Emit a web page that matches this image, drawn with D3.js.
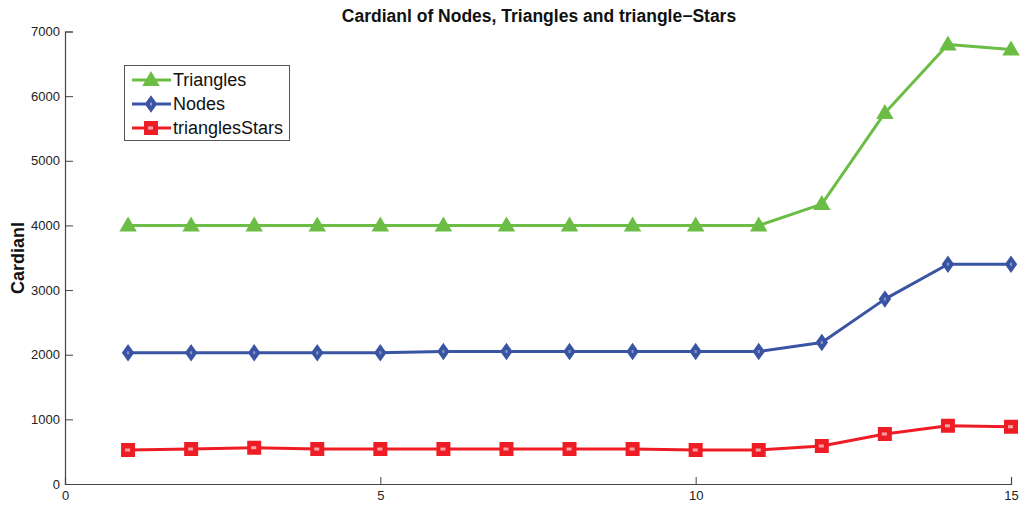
<!DOCTYPE html>
<html>
<head>
<meta charset="utf-8">
<script src="https://cdn.jsdelivr.net/npm/d3@7"></script>
<style>
  body { margin: 0; background: #fff; }
  svg { display: block; font-family: Arial, "Liberation Sans", sans-serif; }
</style>
</head>
<body>
<svg id="chart" width="1022" height="505"></svg>
<script>
// Measurement runs 1..15
const runs = [1, 2, 3, 4, 5, 6, 7, 8, 9, 10, 11, 12, 13, 14, 15];
const triangles = [4000, 4000, 4000, 4000, 4000, 4000, 4000, 4000, 4000, 4000, 4000, 4330, 5740, 6800, 6720];
const nodes = [2030, 2030, 2030, 2030, 2030, 2050, 2050, 2050, 2050, 2050, 2050, 2190, 2860, 3400, 3400];
const trianglesStars = [526, 541, 562, 541, 541, 541, 541, 541, 541, 526, 526, 588, 773, 900, 886];
const xTicks = [0, 5, 10, 15];
const yTicks = [0, 1000, 2000, 3000, 4000, 5000, 6000, 7000];

const seriesList = [
  { name: "Triangles", values: triangles, color: "#6cbd45", marker: "triangle" },
  { name: "Nodes", values: nodes, color: "#3a54a4", marker: "diamond" },
  { name: "trianglesStars", values: trianglesStars, color: "#ee1d25", marker: "square" }
];

const svg = d3.select("#chart");
const m = { left: 65, right: 1011, top: 31.5, bottom: 484 };

const x = d3.scaleLinear().domain([0, 15]).range([m.left, m.right]);
const y = d3.scaleLinear().domain([0, 7000]).range([m.bottom, m.top]);

// Axes with inward ticks
const axisColor = "#444";
const xAxis = svg.append("g")
  .attr("transform", `translate(0,${m.bottom})`)
  .call(d3.axisBottom(x).tickValues(xTicks).tickSize(-7).tickPadding(7).tickFormat(d3.format("d")));
const yAxis = svg.append("g")
  .attr("transform", `translate(${m.left},0)`)
  .call(d3.axisLeft(y).tickValues(yTicks).tickSize(-8).tickPadding(5).tickFormat(d3.format("d")));

[xAxis, yAxis].forEach(g => {
  g.select(".domain").attr("stroke", axisColor).attr("stroke-width", 1.2);
  g.selectAll(".tick line").attr("stroke", axisColor).attr("stroke-width", 1);
  g.selectAll(".tick text").attr("fill", "#222").style("font-size", "13px").style("font-family", "Arial, 'Liberation Sans', sans-serif");
});

// Marker shapes
function markerPath(type) {
  if (type === "triangle") return "M0,-7L7,5L-7,5Z";
  if (type === "diamond") return "M0,-7L5,0L0,7L-5,0Z";
  return "M-6,-6L6,-6L6,6L-6,6Z";
}
function drawMarker(g, type, color) {
  g.append("path").attr("d", markerPath(type))
    .attr("fill", color).attr("stroke", color).attr("stroke-width", 2)
    .attr("stroke-linejoin", "miter");
  // small light center, as in the rendered markers
  if (type === "square") {
    g.append("rect").attr("x", -3).attr("y", -1.5).attr("width", 5).attr("height", 3)
      .attr("fill", "#fff").attr("opacity", 0.6);
  } else if (type === "diamond") {
    g.append("rect").attr("x", -1).attr("y", -1.5).attr("width", 2).attr("height", 3)
      .attr("fill", "#fff").attr("opacity", 0.4);
  }
}

const line = d3.line().x((d, i) => x(runs[i])).y(d => y(d));

seriesList.forEach(s => {
  svg.append("path").datum(s.values)
    .attr("d", line)
    .attr("fill", "none")
    .attr("stroke", s.color)
    .attr("stroke-width", 3)
    .attr("stroke-linejoin", "round");
  s.values.forEach((v, i) => {
    const g = svg.append("g").attr("transform", `translate(${x(runs[i])},${y(v)})`);
    drawMarker(g, s.marker, s.color);
  });
});

// Title and axis label
svg.append("text")
  .attr("x", 539).attr("y", 22)
  .attr("text-anchor", "middle")
  .style("font-size", "17.5px").style("font-weight", "bold").attr("fill", "#111")
  .text("Cardianl of Nodes, Triangles and triangle\u2212Stars");

svg.append("text")
  .attr("transform", "translate(24,258) rotate(-90)")
  .attr("text-anchor", "middle")
  .style("font-size", "18px").style("font-weight", "bold").attr("fill", "#111")
  .text("Cardianl");

// Legend
const legend = svg.append("g");
legend.append("rect")
  .attr("x", 124.5).attr("y", 65.5).attr("width", 165).attr("height", 75)
  .attr("fill", "#fff").attr("stroke", "#555").attr("stroke-width", 1);
seriesList.forEach((s, i) => {
  const cy = 80 + i * 24;
  legend.append("line")
    .attr("x1", 132).attr("x2", 171).attr("y1", cy).attr("y2", cy)
    .attr("stroke", s.color).attr("stroke-width", 3);
  const g = legend.append("g").attr("transform", `translate(151,${cy})`);
  drawMarker(g, s.marker, s.color);
  legend.append("text")
    .attr("x", 173).attr("y", cy).attr("dy", "0.35em")
    .style("font-size", "18px").attr("fill", "#111")
    .text(s.name);
});
</script>
</body>
</html>
